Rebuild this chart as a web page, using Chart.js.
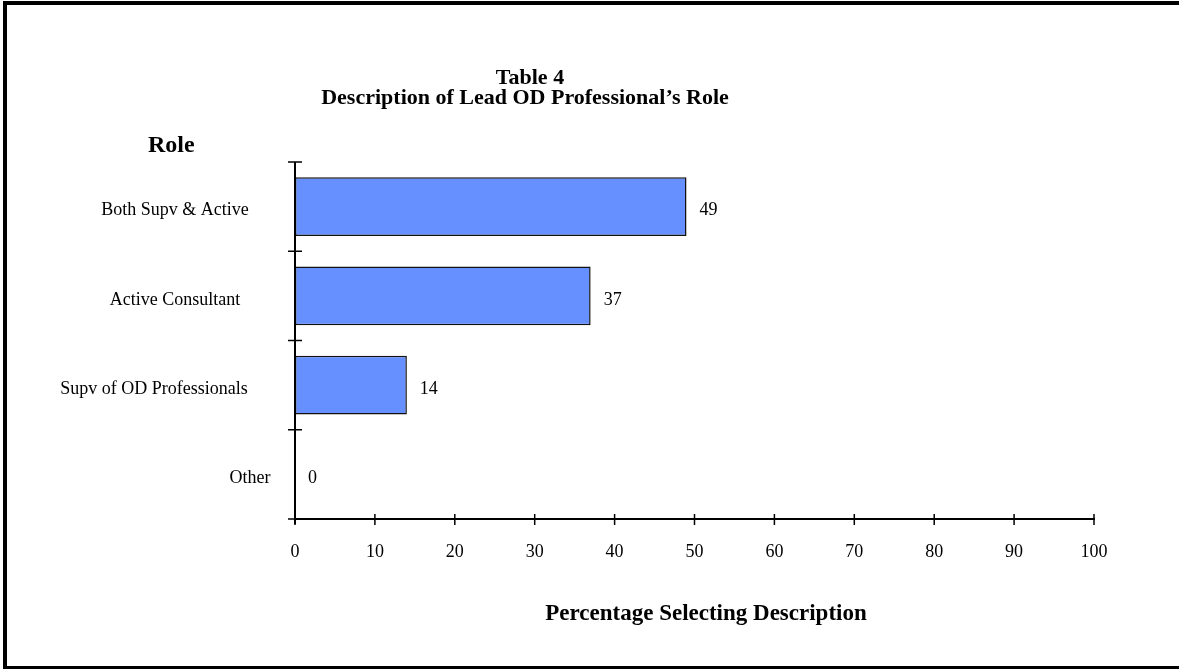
<!DOCTYPE html>
<html>
<head>
<meta charset="utf-8">
<script src="https://cdn.jsdelivr.net/npm/chart.js@4/dist/chart.umd.min.js"></script>
<style>
  html, body { margin: 0; padding: 0; background: #fff; }
  #wrap { position: relative; width: 1179px; height: 669px; overflow: hidden; }
  #frame { position: absolute; left: 3px; top: 1px; width: 1200px; height: 661px;
           border-left: 4px solid #000; border-top: 4px solid #000; border-bottom: 4px solid #000; }
  canvas { position: absolute; left: 0; top: 0; }
</style>
</head>
<body>
<div id="wrap">
  <div id="frame"></div>
  <canvas id="chart" width="1179" height="669"></canvas>
</div>
<script>
// Survey result: how the lead OD professional's role is described
const roles = ['Both Supv & Active', 'Active Consultant', 'Supv of OD Professionals', 'Other'];
const percentages = [49, 37, 14, 0];
const xTicks = [0, 10, 20, 30, 40, 50, 60, 70, 80, 90, 100];

const titleLines = ['Table 4', 'Description of Lead OD Professional\u2019s Role'];
const yAxisTitle = 'Role';
const xAxisTitle = 'Percentage Selecting Description';

// horizontal centres of the role labels
const roleLabelCenters = [175, 175, 154, 250];

const SERIF = '"Liberation Serif", "Times New Roman", serif';

const annotate = {
  id: 'annotate',
  afterDatasetsDraw(chart) {
    const ctx = chart.ctx;
    const xs = chart.scales.x, ys = chart.scales.y;
    ctx.save();

    // axis lines
    ctx.strokeStyle = '#000';
    ctx.lineWidth = 2;
    ctx.beginPath();
    ctx.moveTo(xs.left, xs.top); ctx.lineTo(xs.right + 1, xs.top);
    ctx.stroke();
    ctx.beginPath();
    ctx.moveTo(ys.right, ys.top); ctx.lineTo(ys.right, ys.bottom + 5);
    ctx.stroke();

    // cross ticks on the category axis, at the band edges
    ctx.lineWidth = 1.5;
    const n = roles.length;
    for (let i = 0; i <= n; i++) {
      const y = i === 0 ? ys.top : (i === n ? ys.bottom :
        (ys.getPixelForValue(i - 1) + ys.getPixelForValue(i)) / 2);
      ctx.beginPath();
      ctx.moveTo(ys.right - 7, y); ctx.lineTo(ys.right + 7, y);
      ctx.stroke();
    }
    // cross ticks on the value axis
    xTicks.forEach(v => {
      const x = xs.getPixelForValue(v);
      ctx.beginPath();
      ctx.moveTo(x, xs.top - 5); ctx.lineTo(x, xs.top + 6);
      ctx.stroke();
    });

    // role labels
    ctx.fillStyle = '#000';
    ctx.font = '18px ' + SERIF;
    ctx.textAlign = 'center';
    ctx.textBaseline = 'middle';
    roles.forEach((r, i) => {
      ctx.fillText(r, roleLabelCenters[i], ys.getPixelForValue(i) + 4);
    });

    // value labels at the bar ends
    const meta = chart.getDatasetMeta(0);
    ctx.textAlign = 'left';
    meta.data.forEach((bar, i) => {
      ctx.fillText(String(percentages[i]), bar.x + 13, bar.y + 4);
    });

    // titles
    ctx.font = 'bold 22px ' + SERIF;
    ctx.textAlign = 'center';
    ctx.fillText(titleLines[0], 530, 78);
    ctx.fillText(titleLines[1], 525, 98);

    ctx.font = 'bold 24px ' + SERIF;
    ctx.textAlign = 'left';
    ctx.fillText(yAxisTitle, 148, 146);

    ctx.font = 'bold 23px ' + SERIF;
    ctx.textAlign = 'center';
    ctx.fillText(xAxisTitle, 706, 614);
    ctx.restore();
  }
};

new Chart(document.getElementById('chart'), {
  type: 'bar',
  data: {
    labels: roles,
    datasets: [{
      data: percentages,
      backgroundColor: '#668fff',
      borderColor: '#111',
      borderWidth: 1.5,
      borderSkipped: false,
      categoryPercentage: 1,
      barPercentage: 0.66
    }]
  },
  options: {
    indexAxis: 'y',
    responsive: false,
    animation: false,
    events: [],
    layout: { padding: { left: 0, top: 162, right: 85, bottom: 0 } },
    plugins: { legend: { display: false }, tooltip: { enabled: false } },
    scales: {
      x: {
        type: 'linear',
        min: 0, max: 100,
        afterBuildTicks(scale) { scale.ticks = xTicks.map(v => ({ value: v })); },
        afterFit(scale) { scale.height = 150; },
        grid: { display: false, drawTicks: false },
        border: { display: false },
        ticks: {
          color: '#000',
          padding: 22,
          maxRotation: 0,
          font: { family: SERIF, size: 18 }
        }
      },
      y: {
        type: 'category',
        afterFit(scale) { scale.width = 295; },
        grid: { display: false, drawTicks: false },
        border: { display: false },
        ticks: { display: false }
      }
    }
  },
  plugins: [annotate]
});
</script>
</body>
</html>
